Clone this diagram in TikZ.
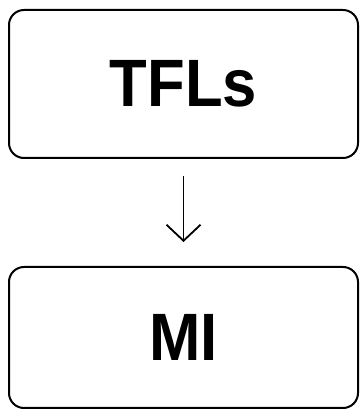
\documentclass[tikz,border=0pt]{standalone}
\usepackage{fontspec}
\newfontfamily\labelfont[FakeStretch=0.92]{Liberation Sans}
\usetikzlibrary{arrows.meta}
\tikzset{
  stagebox/.style={draw=black, line width=2pt, rounded corners=15pt,
    minimum width=349pt, inner sep=0pt,
    font=\labelfont\bfseries\fontsize{67}{67}\selectfont},
  flowarrow/.style={line width=1.8pt,
    -{Straight Barb[length=16pt, width=34pt, line width=1.8pt]}}
}
\begin{document}
\begin{tikzpicture}[x=1pt, y=1pt]
  \fill[white] (0,0) rectangle (360,410);
  \useasboundingbox (0,0) rectangle (360,410);
  % two stages joined by a downward arrow
  \node[stagebox, minimum height=148pt] (tfl) at (183.5,326) {TFLs};
  \node[stagebox, minimum height=141pt] (mi) at (183.5,72.5) {MI};
  \draw[flowarrow, shorten <=17pt, shorten >=24pt] (tfl) -- (mi);
\end{tikzpicture}
\end{document}
